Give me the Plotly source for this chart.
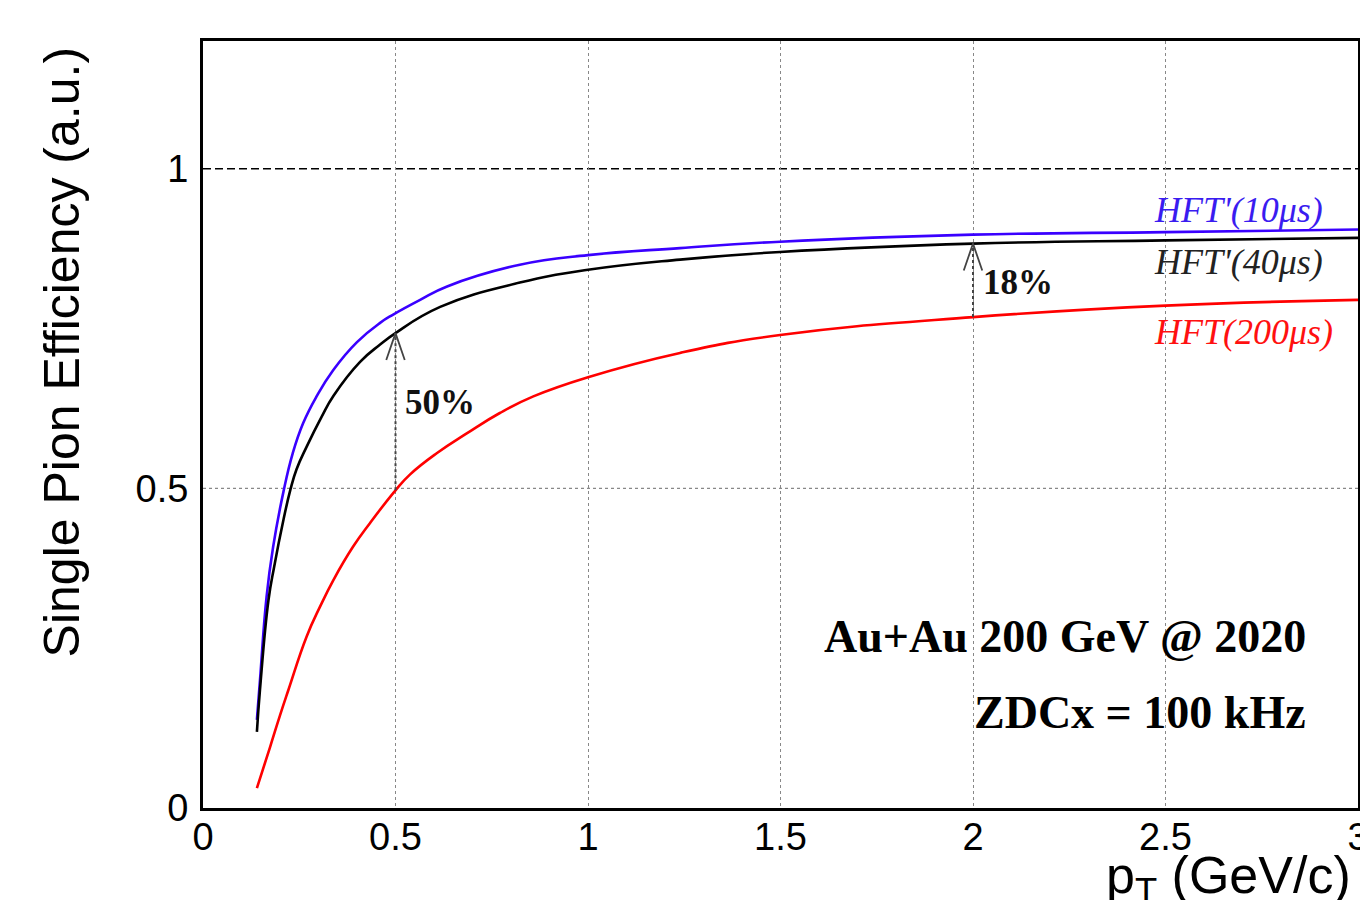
import plotly.graph_objects as go

# ---------------- data ----------------
pt_10us = [0.14, 0.148, 0.165, 0.182, 0.209, 0.233, 0.26, 0.295, 0.338, 0.40, 0.46, 0.494,
           0.564, 0.634, 0.823, 1.0, 1.239, 1.499, 2.0, 2.5, 3.0]
eff_10us = [0.138, 0.200, 0.330, 0.408, 0.495, 0.555, 0.602, 0.644, 0.685, 0.729, 0.759, 0.772,
            0.795, 0.816, 0.850, 0.865, 0.876, 0.886, 0.897, 0.901, 0.905]

pt_40us = [0.14, 0.148, 0.170, 0.185, 0.209, 0.227, 0.243, 0.269, 0.308, 0.339, 0.408, 0.46,
           0.5, 0.616, 0.823, 1.0, 1.239, 1.499, 2.0, 2.5, 3.0]
eff_40us = [0.119, 0.185, 0.325, 0.378, 0.451, 0.498, 0.530, 0.565, 0.612, 0.645, 0.698, 0.725,
            0.743, 0.784, 0.822, 0.842, 0.858, 0.870, 0.883, 0.888, 0.892]

pt_200us = [0.14, 0.174, 0.2, 0.222, 0.269, 0.304, 0.339, 0.390, 0.434, 0.5, 0.538, 0.607,
            0.685, 0.771, 0.858, 1.0, 1.239, 1.499, 2.0, 2.5, 3.0]
eff_200us = [0.031, 0.095, 0.145, 0.185, 0.268, 0.315, 0.357, 0.409, 0.446, 0.497, 0.522, 0.555,
             0.586, 0.618, 0.644, 0.674, 0.712, 0.740, 0.768, 0.786, 0.795]

series_names = ["HFT'(10μs)", "HFT'(40μs)", "HFT(200μs)"]
series_colors = ["#3a00ff", "#000000", "#ff0000"]
label_colors = ["#3a1cf0", "#222222", "#ff1010"]

arrow_x = [0.5, 2.0]
arrow_base = [0.497, 0.768]
arrow_tip = [0.743, 0.883]
arrow_text = ["50%", "18%"]

x_ticks = [0, 0.5, 1, 1.5, 2, 2.5, 3]
x_tick_text = ["0", "0.5", "1", "1.5", "2", "2.5", "3"]
y_ticks = [0, 0.5, 1]
y_tick_text = ["0", "0.5", "1"]
y_grid_dotted = [0.5]
y_reference = [1.0]

info_lines = ["Au+Au 200 GeV @ 2020", "ZDCx = 100 kHz"]

# ---------------- figure ----------------
SERIF = "Liberation Serif, Times New Roman, serif"
SANS = "Liberation Sans, Arial, Helvetica, sans-serif"

fig = go.Figure()

for xs, ys, name, col in zip([pt_10us, pt_40us, pt_200us],
                             [eff_10us, eff_40us, eff_200us],
                             series_names, series_colors):
    fig.add_trace(go.Scatter(x=xs, y=ys, mode="lines", name=name,
                             line=dict(color=col, width=2.6, shape="spline", smoothing=1.3),
                             hoverinfo="skip", showlegend=False))

# arrows (dotted shaft + open V head)
head_dx, head_dy = 0.024, 0.042
for ax_, yb, yt in zip(arrow_x, arrow_base, arrow_tip):
    fig.add_trace(go.Scatter(x=[ax_, ax_], y=[yb, yt], mode="lines",
                             line=dict(color="#444444", width=2, dash="dot"),
                             hoverinfo="skip", showlegend=False))
    fig.add_trace(go.Scatter(x=[ax_ - head_dx, ax_, ax_ + head_dx],
                             y=[yt - head_dy, yt, yt - head_dy], mode="lines",
                             line=dict(color="#444444", width=1.8),
                             hoverinfo="skip", showlegend=False))

for yv in y_grid_dotted:
    fig.add_hline(y=yv, line=dict(color="#888888", width=1.2, dash="dot"), layer="below")
for yv in y_reference:
    fig.add_hline(y=yv, line=dict(color="#000000", width=1.5, dash="8px,4px"), layer="below")

ann = []
# curve labels
label_pos = [(2.914, 0.936), (2.914, 0.854), (2.94, 0.745)]
for (lx, ly), txt, col in zip(label_pos, series_names, label_colors):
    ann.append(dict(x=lx, y=ly, xref="x", yref="y", text=f"<i>{txt}</i>",
                    showarrow=False, xanchor="right", yanchor="middle",
                    font=dict(family=SERIF, size=36, color=col)))
# arrow labels
label_y = [0.634, 0.822]
for ax_, ly, txt in zip(arrow_x, label_y, arrow_text):
    ann.append(dict(x=ax_ + 0.02, y=ly, xref="x", yref="y", text=f"<b>{txt}</b>",
                    showarrow=False, xanchor="left", yanchor="middle",
                    font=dict(family=SERIF, size=35, color="#111111")))
# info text
for txt, yy in zip(info_lines, [0.268, 0.150]):
    ann.append(dict(x=2.87, y=yy, xref="x", yref="y", text=f"<b>{txt}</b>",
                    showarrow=False, xanchor="right", yanchor="middle",
                    font=dict(family=SERIF, size=46, color="#000000")))
# axis titles
ann.append(dict(x=-0.122, y=0.995, xref="paper", yref="paper",
                text="Single Pion Efficiency (a.u.)", textangle=-90, showarrow=False,
                xanchor="center", yanchor="top",
                font=dict(family=SANS, size=50, color="#000000")))
ann.append(dict(x=0.996, y=-0.092, xref="paper", yref="paper",
                text="p<sub>T</sub> (GeV/c)", showarrow=False,
                xanchor="right", yanchor="middle",
                font=dict(family=SANS, size=52, color="#000000")))

fig.update_layout(
    width=1360, height=900,
    margin=dict(l=203, r=2, t=41, b=92, autoexpand=False),
    paper_bgcolor="white", plot_bgcolor="white",
    annotations=ann,
    showlegend=False,
    hovermode=False,
    xaxis=dict(range=[0, 3], tickvals=x_ticks, ticktext=x_tick_text,
               showgrid=True, gridcolor="#888888", griddash="dot", gridwidth=1.2,
               zeroline=False, showline=True, linecolor="black", linewidth=3, mirror=True,
               ticks="", ticklabelstandoff=-7, ticklabeloverflow="allow",
               tickfont=dict(family=SANS, size=38, color="black"), automargin=False),
    yaxis=dict(range=[0, 1.2], tickvals=y_ticks, ticktext=y_tick_text,
               showgrid=False, zeroline=False, showline=True, linecolor="black",
               linewidth=3, mirror=True, ticks="", ticklabelstandoff=4,
               ticklabeloverflow="allow",
               tickfont=dict(family=SANS, size=38, color="black"), automargin=False),
)

fig.write_html("out.html", config=dict(displayModeBar=False),
               post_script="document.body.style.margin='0';document.body.style.overflow='hidden';")
